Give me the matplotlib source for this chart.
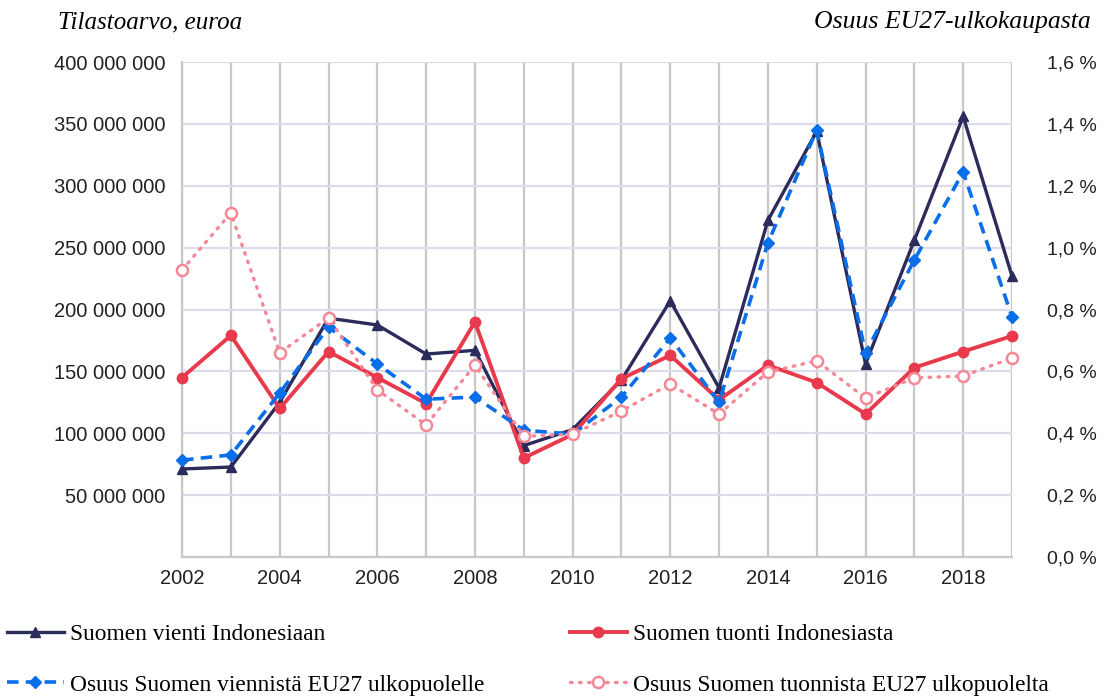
import matplotlib.pyplot as plt
from matplotlib.ticker import FuncFormatter

# data
years = list(range(2002, 2020))
vienti = [71.1, 72.7, 125, 193, 187.5, 164, 167, 90, 103, 143, 207, 136.6,
          272, 344, 156, 256, 356, 227]
tuonti = [145, 179, 120, 166, 145, 124, 190, 80, 99, 144, 163, 127,
          155, 141, 115.6, 153, 166, 178.6]
osuus_vienti = [0.313, 0.33, 0.53, 0.743, 0.624, 0.51, 0.517, 0.41, 0.397, 0.517,
                0.708, 0.50, 1.015, 1.38, 0.66, 0.96, 1.245, 0.776]
osuus_tuonti = [0.928, 1.112, 0.66, 0.773, 0.54, 0.427, 0.62, 0.39, 0.397, 0.472,
                0.559, 0.462, 0.598, 0.634, 0.514, 0.579, 0.585, 0.643]

navy = '#2b2b5c'
red = '#e83a4c'
blue = '#0a6ee8'
pink = '#f58896'

fig = plt.figure(figsize=(11.06, 6.97), dpi=100)
ax = fig.add_axes([0.1646, 0.2009, 0.7504, 0.7101])
ax2 = ax.twinx()

tick_font = 'Liberation Sans'
serif = 'Liberation Serif'

l1, = ax.plot(years, [v * 1e6 for v in vienti], color=navy, lw=2.4,
              marker='^', ms=7.5, label='Suomen vienti Indonesiaan', zorder=3,
              clip_on=False)
l2, = ax.plot(years, [v * 1e6 for v in tuonti], color=red, lw=2.8,
              marker='o', ms=7.5, label='Suomen tuonti Indonesiasta', zorder=4,
              clip_on=False)
l3, = ax2.plot(years, [v / 100 for v in osuus_vienti], color=blue, lw=2.6,
               ls=(0, (3.2, 2)), marker='D', ms=6.5, clip_on=False,
               label='Osuus Suomen viennistä EU27 ulkopuolelle')
l4, = ax2.plot(years, [v / 100 for v in osuus_tuonti], color=pink, lw=2.4,
               ls=(0, (0.5, 2.2)), dash_capstyle='round', marker='o', ms=8,
               mfc='white', mew=1.8, clip_on=False,
               label='Osuus Suomen tuonnista EU27 ulkopuolelta')

ax.set_xlim(2002, 2019)
ax.set_ylim(0, 400e6)
ax2.set_ylim(0, 0.016)

ax.set_xticks(years)
ax.set_xticklabels([str(y) if y % 2 == 0 else '' for y in years])
ax.set_yticks([i * 50e6 for i in range(9)])
ax.yaxis.set_major_formatter(FuncFormatter(
    lambda v, p: '' if v == 0 else f'{int(v):,}'.replace(',', ' ')))
ax2.set_yticks([i * 0.002 for i in range(9)])
ax2.yaxis.set_major_formatter(FuncFormatter(
    lambda v, p: f'{v * 100:.1f} %'.replace('.', ',')))

ax.tick_params(axis='both', length=0, labelsize=14.5, colors='#222222')
ax.tick_params(axis='y', pad=12)
ax.tick_params(axis='x', pad=9)
ax2.tick_params(axis='y', length=0, labelsize=14, colors='#222222', pad=25)
for lab in ax.get_xticklabels() + ax.get_yticklabels() + ax2.get_yticklabels():
    lab.set_fontfamily(tick_font)

ax.grid(axis='x', color='#c8c8c8', lw=1.6)
ax.grid(axis='y', color='#dcdcec', lw=1.6)
ax.set_axisbelow(True)
for s in ['top', 'right']:
    ax.spines[s].set_visible(False)
for s in ax2.spines.values():
    s.set_visible(False)
ax.spines['left'].set_color('#c8c8c8')
ax.spines['left'].set_linewidth(1.6)
ax.spines['bottom'].set_color('#c8c8c8')
ax.spines['bottom'].set_linewidth(1.6)

fig.text(58 / 1106, 1 - 22 / 697, 'Tilastoarvo, euroa', fontsize=18,
         style='italic', family=serif, va='center', ha='left')
fig.text(1091 / 1106, 1 - 22 / 697, 'Osuus EU27-ulkokaupasta', fontsize=18.5,
         style='italic', family=serif, va='center', ha='right')

leg_kw = dict(frameon=False, handlelength=2.45, handletextpad=0.25,
              labelspacing=1.25, borderaxespad=0, borderpad=0,
              prop={'family': serif, 'size': 16.8})
leg1 = fig.legend([l1, l3], [l1.get_label(), l3.get_label()], loc='upper left',
                  bbox_to_anchor=(0.006, 0.105), **leg_kw)
leg2 = fig.legend([l2, l4], [l2.get_label(), l4.get_label()], loc='upper left',
                  bbox_to_anchor=(0.515, 0.105), **leg_kw)

fig.savefig('out.png', dpi=100)
